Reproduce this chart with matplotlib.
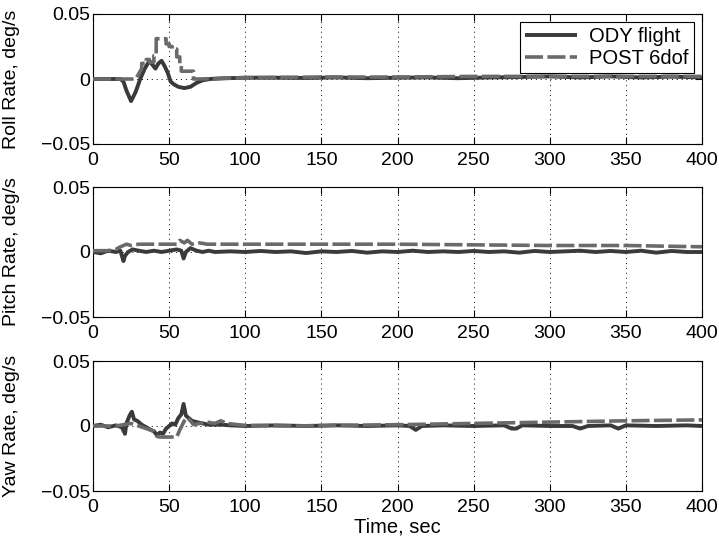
import matplotlib
matplotlib.use("Agg")
import matplotlib.pyplot as plt
from matplotlib.ticker import FixedLocator, FixedFormatter

plt.rcParams['font.family'] = ['Liberation Sans', 'DejaVu Sans']

# ---------------- data ----------------
roll_ody_t = [0, 10, 18, 20, 22, 25, 28, 31, 34, 37, 39, 41, 43, 45, 47, 49, 51, 53, 56, 60,
              64, 68, 72, 77, 85, 100, 120, 140, 160, 180, 200, 220, 240, 260, 280, 300, 320,
              340, 360, 380, 400]
roll_ody_y = [0, 0, 0, -0.002, -0.009, -0.017, -0.010, 0.000, 0.008, 0.014, 0.011, 0.008, 0.012,
              0.014, 0.010, 0.005, -0.002, -0.004, -0.006, -0.007, -0.006, -0.003, -0.001, 0.000,
              0.0005, 0.001, 0.001, 0.0008, 0.0012, 0.0006, 0.001, 0.0012, 0.0006, 0.0012, 0.0015,
              0.002, 0.0012, 0.002, 0.0012, 0.0018, 0.0012]

roll_post_t = [0, 28, 30, 32, 32, 35, 35, 37, 37, 40, 40, 41.5, 41.5, 48, 48, 50, 50, 52, 52, 55,
               55, 57, 57, 58, 58, 66, 66, 70, 100, 150, 200, 250, 300, 350, 400]
roll_post_y = [0, 0, 0.004, 0.008, 0.012, 0.012, 0.015, 0.015, 0.013, 0.013, 0.018, 0.018, 0.031,
               0.031, 0.027, 0.027, 0.025, 0.025, 0.023, 0.023, 0.017, 0.017, 0.011, 0.011, 0.006,
               0.006, 0.0, 0.0, 0.001, 0.0015, 0.0015, 0.002, 0.002, 0.002, 0.002]

pitch_ody_t = [0, 5, 10, 15, 18, 20, 21, 23, 26, 30, 35, 40, 45, 50, 55, 58, 59.5, 61, 64, 68,
               72, 76, 80, 90, 100, 110, 120, 130, 140, 150, 160, 170, 180, 190, 200, 210, 220,
               230, 240, 250, 260, 270, 280, 290, 300, 310, 320, 330, 340, 350, 360, 370, 380,
               390, 400]
pitch_ody_y = [0.0, -0.001, 0.001, 0.0, 0.001, -0.007, -0.003, 0.0, 0.002, 0.001, 0.0, 0.001, 0.0,
               0.001, 0.002, 0.001, -0.005, 0.0, 0.003, 0.001, 0.0, 0.001, 0.0, 0.0005, 0.0,
               0.0008, 0.0, 0.0005, -0.0008, 0.0005, 0.0, 0.0008, -0.0005, 0.0005, 0.0, 0.001,
               0.0, 0.0005, 0.0, 0.0008, 0.0, 0.0005, -0.0005, 0.0008, 0.0, 0.0005, 0.001, 0.0,
               0.0008, 0.0, 0.001, -0.0005, 0.0008, 0.0, 0.0]

pitch_post_t = [0, 10, 15, 18, 22, 25, 30, 40, 50, 55, 57, 60, 62, 65, 70, 75, 100, 150, 200,
                250, 300, 350, 400]
pitch_post_y = [0.001, 0.001, 0.002, 0.004, 0.006, 0.005, 0.006, 0.006, 0.006, 0.006, 0.009,
                0.007, 0.009, 0.006, 0.007, 0.006, 0.006, 0.006, 0.006, 0.0055, 0.005, 0.005,
                0.004]

yaw_ody_t = [0, 5, 10, 15, 19, 21, 22, 24, 25.5, 27, 29, 32, 35, 38, 40, 42, 44, 46, 48, 50, 52,
             54, 56, 58, 59.5, 61, 63, 65, 68, 72, 76, 80, 85, 90, 100, 120, 140, 160, 180, 200,
             208, 212, 216, 230, 250, 270, 275, 278, 282, 300, 315, 320, 325, 340, 345, 350,
             370, 390, 400]
yaw_ody_y = [0.0, 0.001, -0.001, 0.0005, -0.001, -0.006, 0.002, 0.008, 0.011, 0.005, 0.004,
             0.001, -0.001, -0.003, -0.004, -0.007, -0.005, -0.006, -0.002, 0.0, 0.002, 0.001,
             0.006, 0.009, 0.017, 0.008, 0.006, 0.004, 0.003, 0.002, 0.001, 0.001, 0.001, 0.0005,
             0.0, 0.0005, 0.0, 0.0005, 0.0, 0.0005, 0.0, -0.003, 0.0, 0.0005, 0.0, 0.0005, -0.002,
             -0.002, 0.0005, 0.0, 0.0, -0.002, 0.0, 0.0005, -0.002, 0.0005, 0.0, 0.0005, 0.0]

yaw_post_t = [0, 15, 20, 25, 30, 35, 40, 42, 44, 55, 57, 60, 62, 64, 66, 70, 75, 80, 84, 88, 95,
              100, 130, 160, 200, 250, 300, 350, 400]
yaw_post_y = [0, 0, 0.001, 0.002, 0.0, -0.002, -0.004, -0.008, -0.0085, -0.0085, -0.003, 0.004,
              0.0065, 0.004, 0.001, 0.002, 0.003, 0.002, 0.004, 0.002, 0.001, 0.0005, 0.0,
              0.0005, 0.001, 0.002, 0.003, 0.004, 0.0047]

x_ticks = [0, 50, 100, 150, 200, 250, 300, 350, 400]
y_ticks = [-0.05, 0, 0.05]
y_tick_labels = ['\u22120.05', '0', '0.05']
ylabels = ['Roll Rate, deg/s', 'Pitch Rate, deg/s', 'Yaw Rate, deg/s']

panels = [(roll_ody_t, roll_ody_y, roll_post_t, roll_post_y),
          (pitch_ody_t, pitch_ody_y, pitch_post_t, pitch_post_y),
          (yaw_ody_t, yaw_ody_y, yaw_post_t, yaw_post_y)]

# ---------------- figure ----------------
fig = plt.figure(figsize=(7.19, 5.39), dpi=100)
left, width, height = 93/719, (702-93)/719, 130/539
bottoms = [1-144/539, 1-317/539, 1-491/539]

for i, (ot, oy, pt, py) in enumerate(panels):
    ax = fig.add_axes([left, bottoms[i], width, height])
    ax.plot(ot, oy, color='#3a3a3a', lw=2.8, solid_capstyle='butt', label='ODY flight', zorder=3)
    ax.plot(pt, py, color='#6a6a6a', lw=2.6, ls=(0, (5, 1.2)), label='POST 6dof', zorder=3)
    ax.set_xlim(0, 400)
    ax.set_ylim(-0.05, 0.05)
    ax.xaxis.set_major_locator(FixedLocator(x_ticks))
    ax.yaxis.set_major_locator(FixedLocator(y_ticks))
    ax.yaxis.set_major_formatter(FixedFormatter(y_tick_labels))
    ax.tick_params(direction='in', labelsize=14, length=5, width=0.8,
                   top=True, right=True, colors='black')
    ax.tick_params(axis='y', pad=2)
    ax.tick_params(axis='x', pad=6)
    ax.grid(True, ls=(0, (1, 4)), color='black', lw=0.7)
    for s in ax.spines.values():
        s.set_linewidth(0.8)
    ax.set_ylabel(ylabels[i], fontsize=14)
    ax.yaxis.set_label_coords(-0.12, 0.5)
    if i == 0:
        leg = ax.legend(loc='upper right', fontsize=14.5, fancybox=False, framealpha=1,
                        edgecolor='black', handlelength=2.6, borderaxespad=0.4,
                        borderpad=0.25, labelspacing=0.15, handletextpad=0.6)
        leg.get_frame().set_linewidth(0.8)
    if i == 2:
        ax.set_xlabel('Time, sec', fontsize=14.5, labelpad=0.5)

fig.savefig('out.png', dpi=100)
